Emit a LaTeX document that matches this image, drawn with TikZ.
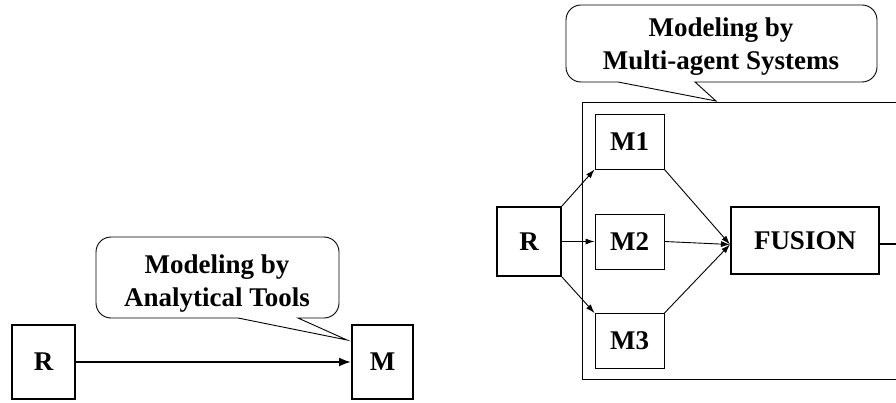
\documentclass[tikz,border=0pt]{standalone}
\usepackage{fontspec}
\setmainfont{Liberation Serif}
\usetikzlibrary{calc}
\usetikzlibrary{arrows.meta}

\begin{document}
\begin{tikzpicture}[x=1pt, y=-1pt,
  every node/.style={font=\fontsize{27}{33}\selectfont\bfseries},
  bigbox/.style={draw, line width=2pt, inner sep=0pt},
  agentbox/.style={draw, line width=0.9pt, inner sep=0pt, minimum width=69pt, minimum height=55pt},
  bubble/.style={draw, line width=0.9pt},
  link/.style={line width=0.9pt, -{Latex[length=9pt,width=6pt]}},
  biglink/.style={line width=2pt, -{Latex[length=12pt,width=9pt]}}]
\useasboundingbox (0,0) rectangle (896,403);
\clip (0,0) rectangle (896,403);

% analytical tools
\node[bigbox, minimum width=63pt, minimum height=74pt] (Ra) at (43.5,362) {R};
\node[bigbox, minimum width=61pt, minimum height=74pt] (Ma) at (382.5,362) {M};
\draw[biglink] (Ra) -- (Ma);

\node[align=center] (callA) at (217,284) {Modeling by\\Analytical Tools};
\coordinate (tipA) at (347,340);
\draw[bubble] (238,318) [rounded corners=15pt] -- (96,318) -- (96,237) -- (339,237) -- (339,318) [sharp corners] -- (298,318) -- (tipA) -- cycle;

% multi-agent systems
\draw[bubble] (582,102) rectangle (920,379);
\node[bigbox, minimum width=64pt, minimum height=69pt] (Rb) at (529,241.5) {R};
\node[agentbox] (M1) at (629.5,141.5) {M1};
\node[agentbox] (M2) at (629.5,241.5) {M2};
\node[agentbox] (M3) at (629.5,341) {M3};
\node[bigbox, minimum width=148pt, minimum height=67pt] (fusion) at (805,240.5) {FUSION};
\coordinate (fin) at ($(fusion.west)+(0,4)$);
\coordinate (out) at (930,244.5);

\draw[link] (Rb.north east) -- (M1.south west);
\draw[link] (Rb.east) -- (M2.west);
\draw[link] (Rb.south east) -- (M3.north west);
\foreach \m/\a in {M1/south east, M2/east, M3/north east}
  \draw[link] (\m.\a) -- (fin);
\draw[biglink] (fusion.east |- out) -- (out);

\node[align=center] (callB) at (721,47) {Modeling by\\Multi-agent Systems};
\coordinate (tipB) at (716,101);
\draw[bubble] (618,82) [rounded corners=15pt] -- (566,82) -- (566,5) -- (877,5) -- (877,82) [sharp corners] -- (695,82) -- (tipB) -- cycle;
\end{tikzpicture}
\end{document}
